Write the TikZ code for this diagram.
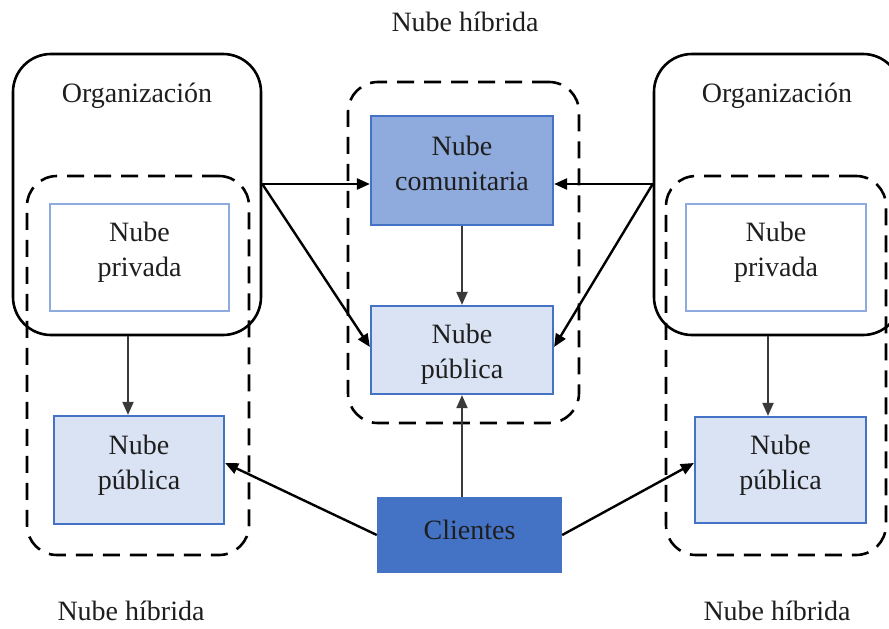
\documentclass[tikz,border=0pt]{standalone}
\usepackage{fontspec}
\setmainfont{Liberation Serif}
\usetikzlibrary{arrows.meta}

\definecolor{accent}{HTML}{4472C4}
\definecolor{commfill}{HTML}{8FAADC}
\definecolor{pubfill}{HTML}{DAE3F3}
\definecolor{privline}{HTML}{8FAADC}
\definecolor{ink}{HTML}{1E1E1E}
\definecolor{stem}{HTML}{3A3A3A}

\tikzset{
  lbl/.style={inner sep=0pt, align=center, text=ink, font=\fontsize{28}{35}\selectfont},
  box/.style={rectangle, inner sep=0pt},
  orgbox/.style={rectangle, draw=black, line width=2.6pt, rounded corners=38pt},
  hybrid/.style={rectangle, draw=black, line width=2.6pt,
                 dash pattern=on 17pt off 10pt, rounded corners=30pt},
  privbox/.style={box, draw=privline, fill=white, line width=2pt},
  pubbox/.style={box, draw=accent, fill=pubfill, line width=2.2pt},
  commbox/.style={box, draw=accent, fill=commfill, line width=2.2pt},
  clibox/.style={box, fill=accent},
  arr/.style={draw=black, line width=2.4pt, -{Triangle[length=13pt,width=11pt]}},
  varr/.style={draw=stem, line width=2pt, -{Triangle[length=13pt,width=11pt]}},
}

\begin{document}
\begin{tikzpicture}[x=1pt,y=-1pt]
  \clip (0,0) rectangle (889,629);

  % organisations and hybrid-cloud outlines
  \node[orgbox, minimum width=248pt, minimum height=281pt] (lorg) at (137,194.5) {};
  \node[orgbox, minimum width=247pt, minimum height=281pt] (rorg) at (777.5,194.5) {};
  \node[hybrid, minimum width=222pt, minimum height=379pt] (lhyb) at (138,365.5) {};
  \node[hybrid, minimum width=220pt, minimum height=379pt] (rhyb) at (776,365.5) {};
  \node[hybrid, minimum width=231pt, minimum height=341pt] (chyb) at (463.5,252.5) {};

  % titles
  \node[lbl] (torg1) at (137,96) {Organización};
  \node[lbl] (torg2) at (777,96) {Organización};
  \node[lbl] (thyb1) at (465,22) {Nube híbrida};
  \node[lbl] (thyb2) at (131,611) {Nube híbrida};
  \node[lbl] (thyb3) at (777,611) {Nube híbrida};

  % clouds
  \node[privbox, minimum width=179pt, minimum height=107pt] (lpriv) at (139.5,257.5) {};
  \node[privbox, minimum width=180pt, minimum height=107pt] (rpriv) at (776,257.5) {};
  \node[pubbox, minimum width=170pt, minimum height=108pt] (lpub) at (139,470) {};
  \node[pubbox, minimum width=171pt, minimum height=106pt] (rpub) at (780.5,470) {};
  \node[commbox, minimum width=182pt, minimum height=109pt] (comm) at (462,170.5) {};
  \node[pubbox, minimum width=182pt, minimum height=88pt] (cpub) at (462,350) {};
  \node[clibox, minimum width=185pt, minimum height=76pt] (cli) at (469.5,535) {};

  % cloud captions
  \node[lbl] (tlpriv) at ([yshift=5pt]lpriv.center) {Nube\\privada};
  \node[lbl] (trpriv) at ([yshift=5pt]rpriv.center) {Nube\\privada};
  \node[lbl] (tlpub) at ([yshift=5pt]lpub.center) {Nube\\pública};
  \node[lbl] (trpub) at ([yshift=5pt]rpub.center) {Nube\\pública};
  \node[lbl] (tcomm) at ([yshift=7.5pt]comm.center) {Nube\\comunitaria};
  \node[lbl] (tcpub) at ([yshift=-4pt]cpub.center) {Nube\\pública};
  \node[lbl] (tcli) at ([yshift=5pt]cli.center) {Clientes};

  % connectors
  \draw[arr] ([yshift=10.5pt]lorg.east) -- ([yshift=-13.5pt]comm.west);
  \draw[arr] ([yshift=10.5pt]lorg.east) -- ([yshift=3pt]cpub.west);
  \draw[arr] ([yshift=10.5pt]rorg.west) -- ([yshift=-13.5pt]comm.east);
  \draw[arr] ([yshift=10.5pt]rorg.west) -- ([yshift=3pt]cpub.east);
  \draw[varr] ([xshift=-9pt]lorg.south) -- ([xshift=-11pt]lpub.north);
  \draw[varr] ([xshift=-9.5pt]rorg.south) -- ([xshift=-12.5pt]rpub.north);
  \draw[varr] (comm.south) -- (cpub.north);
  \draw[varr] (cli.north -| cpub.south) -- (cpub.south);
  \draw[arr] (cli.west) -- ([yshift=7pt]lpub.east);
  \draw[arr] (cli.east) -- ([yshift=7pt]rpub.west);
\end{tikzpicture}
\end{document}
